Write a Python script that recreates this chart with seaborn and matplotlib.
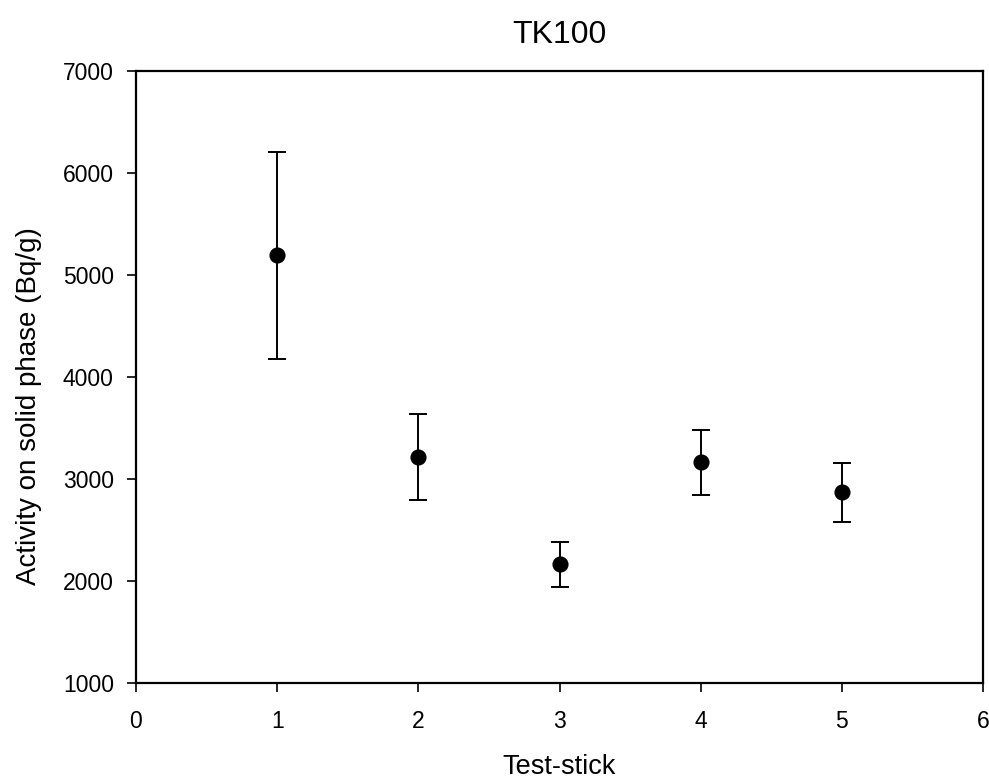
import matplotlib
matplotlib.use("Agg")
import matplotlib.pyplot as plt
import seaborn as sns
import pandas as pd

# Test-stick activity measurements
sticks = [1, 2, 3, 4, 5]
activity = [5190, 3215, 2162, 3160, 2865]
activity_err = [1015, 423, 222, 320, 292]

sns.set_theme(style="ticks")
plt.rcParams["font.family"] = ["Liberation Sans", "DejaVu Sans"]
plt.rcParams["text.color"] = "black"
plt.rcParams["axes.labelcolor"] = "black"

df = pd.DataFrame({"stick": sticks, "activity": activity, "err": activity_err})

fig = plt.figure(figsize=(9.89, 7.78), dpi=100)
ax = fig.add_axes([0.1375, 0.1225, 0.8565, 0.7865])

ax.errorbar(df["stick"], df["activity"], yerr=df["err"], fmt="none",
            ecolor="black", elinewidth=1.4, capsize=6.5, capthick=1.4, zorder=2)
sns.scatterplot(data=df, x="stick", y="activity", ax=ax, color="black",
                s=135, edgecolor="black", linewidth=0, zorder=3)

ax.set_xlim(0, 6)
ax.set_ylim(1000, 7000)
ax.set_xticks(range(0, 7))
ax.set_yticks(range(1000, 7001, 1000))

for side in ["left", "right", "top", "bottom"]:
    ax.spines[side].set_visible(True)
    ax.spines[side].set_linewidth(1.6)
    ax.spines[side].set_color("black")

ax.tick_params(axis="both", direction="out", length=6.5, width=1.2,
               colors="black", labelsize=16.5)
ax.tick_params(axis="x", pad=13)
ax.tick_params(axis="y", pad=9.5)

ax.set_xlabel("Test-stick", fontsize=19.5, labelpad=15)
ax.set_ylabel("Activity on solid phase (Bq/g)", fontsize=20)
ax.yaxis.set_label_coords(-0.111, 0.452)
ax.set_title("TK100", fontsize=23, pad=20)

fig.savefig("out.png", dpi=100)
